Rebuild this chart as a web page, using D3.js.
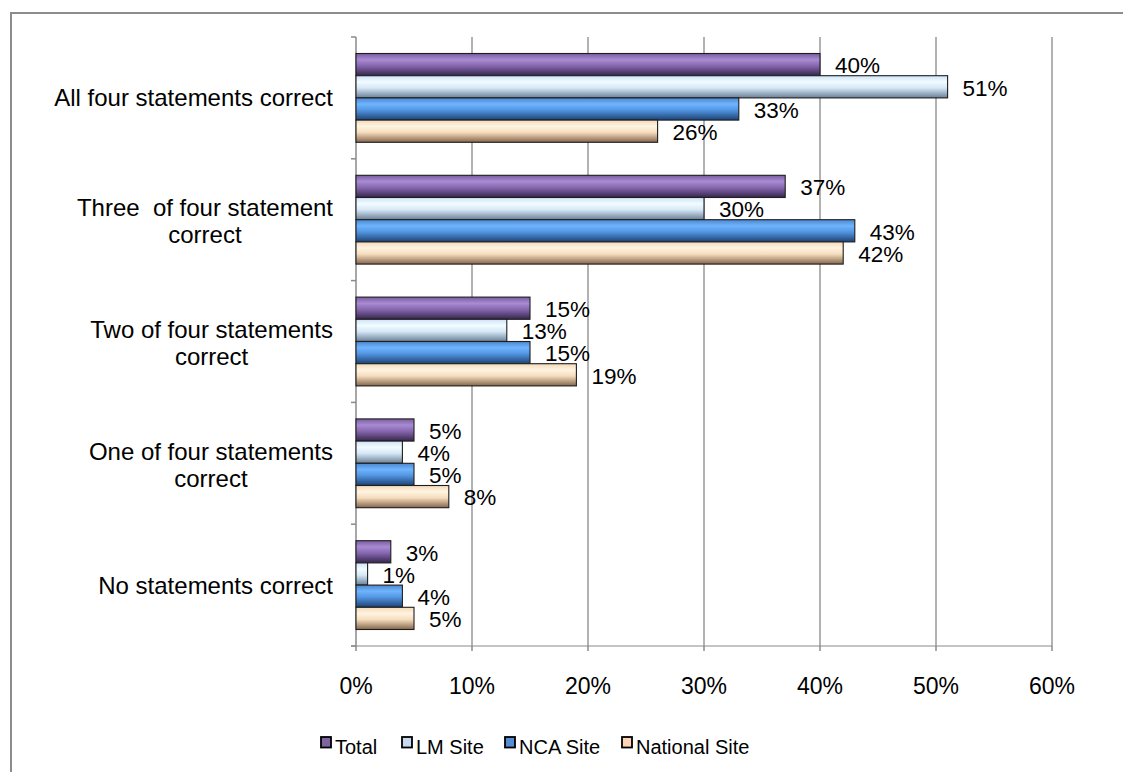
<!DOCTYPE html>
<html>
<head>
<meta charset="utf-8">
<script src="https://cdn.jsdelivr.net/npm/d3@7"></script>
<style>
  html, body { margin: 0; padding: 0; background: #fff; }
  svg { display: block; font-family: "Liberation Sans", Arial, sans-serif; }
</style>
</head>
<body>
<svg id="chart" width="1123" height="772"></svg>
<script>
// Survey answer groups (label lines separated by \n)
const categories = [
  "All four statements correct",
  "Three  of four statement\ncorrect",
  "Two of four statements\ncorrect",
  "One of four statements\ncorrect",
  "No statements correct"
];
const seriesNames = ["Total", "LM Site", "NCA Site", "National Site"];
const totalValues    = [40, 37, 15, 5, 3];
const lmValues       = [51, 30, 13, 4, 1];
const ncaValues      = [33, 43, 15, 5, 4];
const nationalValues = [26, 42, 19, 8, 5];
const xTicks = [0, 10, 20, 30, 40, 50, 60];

const seriesValues = [totalValues, lmValues, ncaValues, nationalValues];
const baseColors = ["#8064A2", "#C6D9F1", "#558ED5", "#FCD5B5"];
// shaded bar fills: [top, highlight, middle, bottom]
const shades = [
  ["#7a5ca0", "#a98bd3", "#8768b0", "#36254d"],
  ["#cfe3f6", "#f2fbff", "#d6e8f7", "#6a7f96"],
  ["#4c88cd", "#6fb4ff", "#5395e0", "#1b4275"],
  ["#f4d9b8", "#fff4e2", "#f6ddbe", "#85664b"]
];

const svg = d3.select("#chart");
const W = 1123, H = 772;

// outer frame (only left and top edges fall within the canvas)
svg.append("path")
  .attr("d", `M11,${H + 5} L11,13 L${W + 5},13`)
  .attr("fill", "none").attr("stroke", "#8c8c8c").attr("stroke-width", 2);

const plot = { left: 356, right: 1052, top: 37, bottom: 646 };

const x = d3.scaleLinear().domain([0, 60]).range([plot.left, plot.right]);
const y = d3.scaleBand().domain(d3.range(categories.length))
  .range([plot.top, plot.bottom]).paddingInner(0).paddingOuter(0);
const barH = 22.2;
const groupH = barH * seriesNames.length;

// gradients
const defs = svg.append("defs");
shades.forEach((s, i) => {
  const g = defs.append("linearGradient").attr("id", "grad" + i)
    .attr("x1", 0).attr("y1", 0).attr("x2", 0).attr("y2", 1);
  [[0, s[0]], [0.28, s[1]], [0.55, s[2]], [1, s[3]]].forEach(([o, c]) =>
    g.append("stop").attr("offset", o).attr("stop-color", c));
});

// vertical gridlines
svg.append("g").selectAll("line").data(xTicks.slice(1)).join("line")
  .attr("x1", d => x(d)).attr("x2", d => x(d))
  .attr("y1", plot.top).attr("y2", plot.bottom)
  .attr("stroke", "#aaaaaa").attr("stroke-width", 1.8);

// axes
const axisColor = "#8a8a8a";
svg.append("line").attr("x1", plot.left).attr("x2", plot.left)
  .attr("y1", plot.top).attr("y2", plot.bottom + 0.5)
  .attr("stroke", axisColor).attr("stroke-width", 1.5);
svg.append("line").attr("x1", plot.left - 5).attr("x2", plot.right)
  .attr("y1", plot.bottom).attr("y2", plot.bottom)
  .attr("stroke", axisColor).attr("stroke-width", 1.2);
// category boundary ticks
svg.append("g").selectAll("line").data(d3.range(categories.length + 1)).join("line")
  .attr("x1", plot.left - 5).attr("x2", plot.left)
  .attr("y1", d => plot.top + d * y.bandwidth()).attr("y2", d => plot.top + d * y.bandwidth())
  .attr("stroke", axisColor).attr("stroke-width", 1.5);
// value ticks
svg.append("g").selectAll("line").data(xTicks).join("line")
  .attr("x1", d => x(d)).attr("x2", d => x(d))
  .attr("y1", plot.bottom).attr("y2", plot.bottom + 5)
  .attr("stroke", axisColor).attr("stroke-width", 1.5);

// value tick labels
svg.append("g").selectAll("text").data(xTicks).join("text")
  .attr("x", d => x(d)).attr("y", 694)
  .attr("text-anchor", "middle").attr("font-size", 23).attr("fill", "#000")
  .text(d => d + "%");

// category labels
const catG = svg.append("g").attr("font-size", 24).attr("fill", "#000");
categories.forEach((c, i) => {
  const lines = c.split("\n");
  const cy = y(i) + y.bandwidth() / 2;
  if (lines.length === 1) {
    catG.append("text").attr("x", 333).attr("y", cy + 8.5)
      .attr("text-anchor", "end").style("white-space", "pre").text(lines[0]);
  } else {
    const first = catG.append("text").attr("x", 333).attr("y", cy - 3.5)
      .attr("text-anchor", "end").style("white-space", "pre").text(lines[0]);
    const w = first.node().getComputedTextLength();
    catG.append("text").attr("x", 333 - w / 2).attr("y", cy + 23.5)
      .attr("text-anchor", "middle").text(lines[1]);
  }
});

// bars and value labels
seriesValues.forEach((vals, s) => {
  const g = svg.append("g");
  vals.forEach((v, i) => {
    const top = y(i) + (y.bandwidth() - groupH) / 2 + s * barH;
    g.append("rect")
      .attr("x", x(0)).attr("y", top)
      .attr("width", x(v) - x(0)).attr("height", barH)
      .attr("fill", `url(#grad${s})`)
      .attr("stroke", "#1e1e1e").attr("stroke-width", 1.1);
    g.append("text")
      .attr("x", x(v) + 15).attr("y", top + barH / 2 + 8.8)
      .attr("font-size", 22.5).attr("fill", "#000")
      .text(v + "%");
  });
});

// legend
const legendX = [321, 402, 505, 622];
const legend = svg.append("g");
seriesNames.forEach((name, i) => {
  legend.append("rect").attr("x", legendX[i]).attr("y", 737)
    .attr("width", 10).attr("height", 10.5)
    .attr("fill", baseColors[i]).attr("stroke", "#000").attr("stroke-width", 1.8);
  legend.append("text").attr("x", legendX[i] + 14).attr("y", 753.5)
    .attr("font-size", 20).attr("fill", "#000").text(name);
});
</script>
</body>
</html>
